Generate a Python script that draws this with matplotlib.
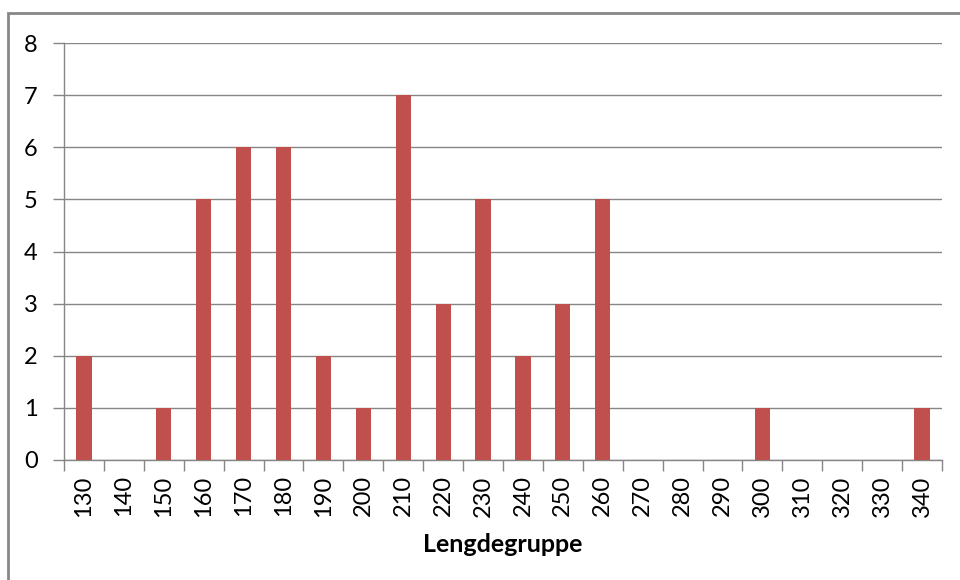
import matplotlib.pyplot as plt
from matplotlib.patches import Rectangle
import numpy as np

groups = [130, 140, 150, 160, 170, 180, 190, 200, 210, 220, 230,
          240, 250, 260, 270, 280, 290, 300, 310, 320, 330, 340]
counts = [2, 0, 1, 5, 6, 6, 2, 1, 7, 3, 5,
          2, 3, 5, 0, 0, 0, 1, 0, 0, 0, 1]

BAR = "#C0504D"
GRID = "#868686"

plt.rcParams["font.family"] = ["Lato", "DejaVu Sans"]

fig = plt.figure(figsize=(9.6, 5.8), dpi=100)
ax = fig.add_axes([64 / 960, 1 - 460 / 580, (942 - 64) / 960, (460 - 43) / 580])

x = np.arange(len(groups))
ax.bar(x, counts, width=0.38, color=BAR, zorder=3)

ax.set_xlim(-0.5, len(groups) - 0.5)
ax.set_ylim(0, 8)
ax.set_yticks(range(0, 9))
ax.yaxis.grid(True, color=GRID, linewidth=1.0, zorder=0)

ax.set_xticks(x)
ax.set_xticklabels([str(g) for g in groups], rotation=90, fontsize=17)
ax.set_xticks(np.arange(-0.5, len(groups)), minor=True)
ax.tick_params(axis="x", which="major", length=0, pad=11)
ax.tick_params(axis="x", which="minor", length=8, color=GRID, width=1)
ax.tick_params(axis="y", length=8, color=GRID, width=1, labelsize=17, pad=11)

for s in ["top", "right"]:
    ax.spines[s].set_visible(False)
for s in ["left", "bottom"]:
    ax.spines[s].set_color(GRID)
    ax.spines[s].set_linewidth(1.0)

ax.set_xlabel("Lengdegruppe", fontsize=18, fontweight="bold", labelpad=12)

# outer chart frame (cropped at right and bottom)
fig.patches.append(Rectangle((8 / 960, -0.2), 1.2, 0.2 + 1 - 13 / 580,
                             transform=fig.transFigure, fill=False,
                             edgecolor="#878787", linewidth=2))

fig.savefig("out.png", dpi=100)
